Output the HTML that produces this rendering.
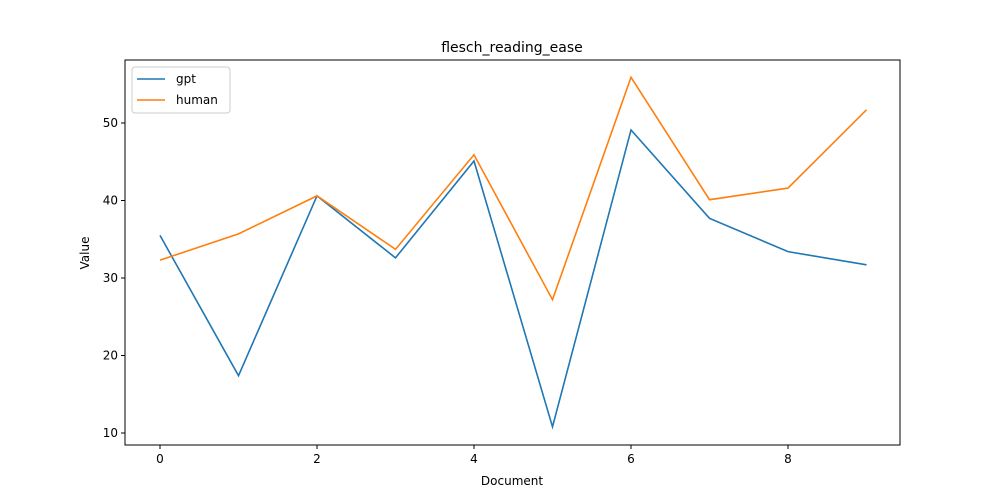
<!DOCTYPE html>
<html><head><meta charset="utf-8"><style>
html,body{margin:0;padding:0;background:#fff;width:1000px;height:500px;overflow:hidden;font-family:"Liberation Sans","DejaVu Sans",sans-serif}
svg{display:block}
</style></head><body>
<svg width="1000" height="500" xmlns="http://www.w3.org/2000/svg" font-family="DejaVu Sans, Liberation Sans, sans-serif">
<rect width="1000" height="500" fill="#fff"/>
<g id="plot"></g>
</svg>
<script>
const categories=[0,1,2,3,4,5,6,7,8,9];
const gptValues=[35.5,17.4,40.6,32.6,45.1,10.8,49.1,37.7,33.4,31.7];
const humanValues=[32.3,35.7,40.6,33.7,45.9,27.2,55.9,40.1,41.6,51.7];
const xTicks=[0,2,4,6,8];
const yTicks=[10,20,30,40,50];
const L=125,R=900,T=60,B=445;
const xs=v=>160+v*78.5;
const ys=v=>433-(v-10)*7.75;
const g=document.getElementById('plot');
const NS='http://www.w3.org/2000/svg';
function el(t,a,txt){const e=document.createElementNS(NS,t);for(const k in a)e.setAttribute(k,a[k]);if(txt!=null)e.textContent=txt;g.appendChild(e);return e;}
let e;
e=el('rect',{x:L,y:T,width:R-L,height:B-T,fill:'none',stroke:'#000','stroke-width':1});


xTicks.forEach(t=>{
 e=el('line',{x1:xs(t),x2:xs(t),y1:B,y2:B+4,stroke:'#000'});
 
 
 e=el('text',{x:xs(t),y:B+18,'text-anchor':'middle','font-size':12},t);
 
 
});
yTicks.forEach(t=>{
 e=el('line',{x1:L-4,x2:L,y1:ys(t),y2:ys(t),stroke:'#000'});
 
 
 e=el('text',{x:L-7,y:ys(t)+4,'text-anchor':'end','font-size':12},t);
 
 
});
function line(vals,color,name){
 const d=vals.map((v,i)=>(i?'L':'M')+xs(categories[i])+','+ys(v)).join('');
 const p=el('path',{d:d,fill:'none',stroke:color,'stroke-width':1.6});
 
 
}
line(gptValues,'#1f77b4','gpt-line');
line(humanValues,'#ff7f0e','human-line');
e=el('text',{x:512,y:52,'text-anchor':'middle','font-size':14},'flesch_reading_ease');


e=el('text',{x:512,y:485,'text-anchor':'middle','font-size':12},'Document');


e=el('text',{x:89,y:253,'text-anchor':'middle','font-size':12,transform:'rotate(-90 89 253)'},'Value');


e=el('rect',{x:132,y:67,width:98,height:46,rx:3,fill:'#fff',stroke:'#ccc'});


[['gpt','#1f77b4',79],['human','#ff7f0e',100]].forEach(([n,c,y])=>{
 e=el('line',{x1:137,x2:165,y1:y,y2:y,stroke:c,'stroke-width':1.6});
 
 
 e=el('text',{x:176,y:y+4,'font-size':12},n);
 
 
});
</script>
</body></html>
